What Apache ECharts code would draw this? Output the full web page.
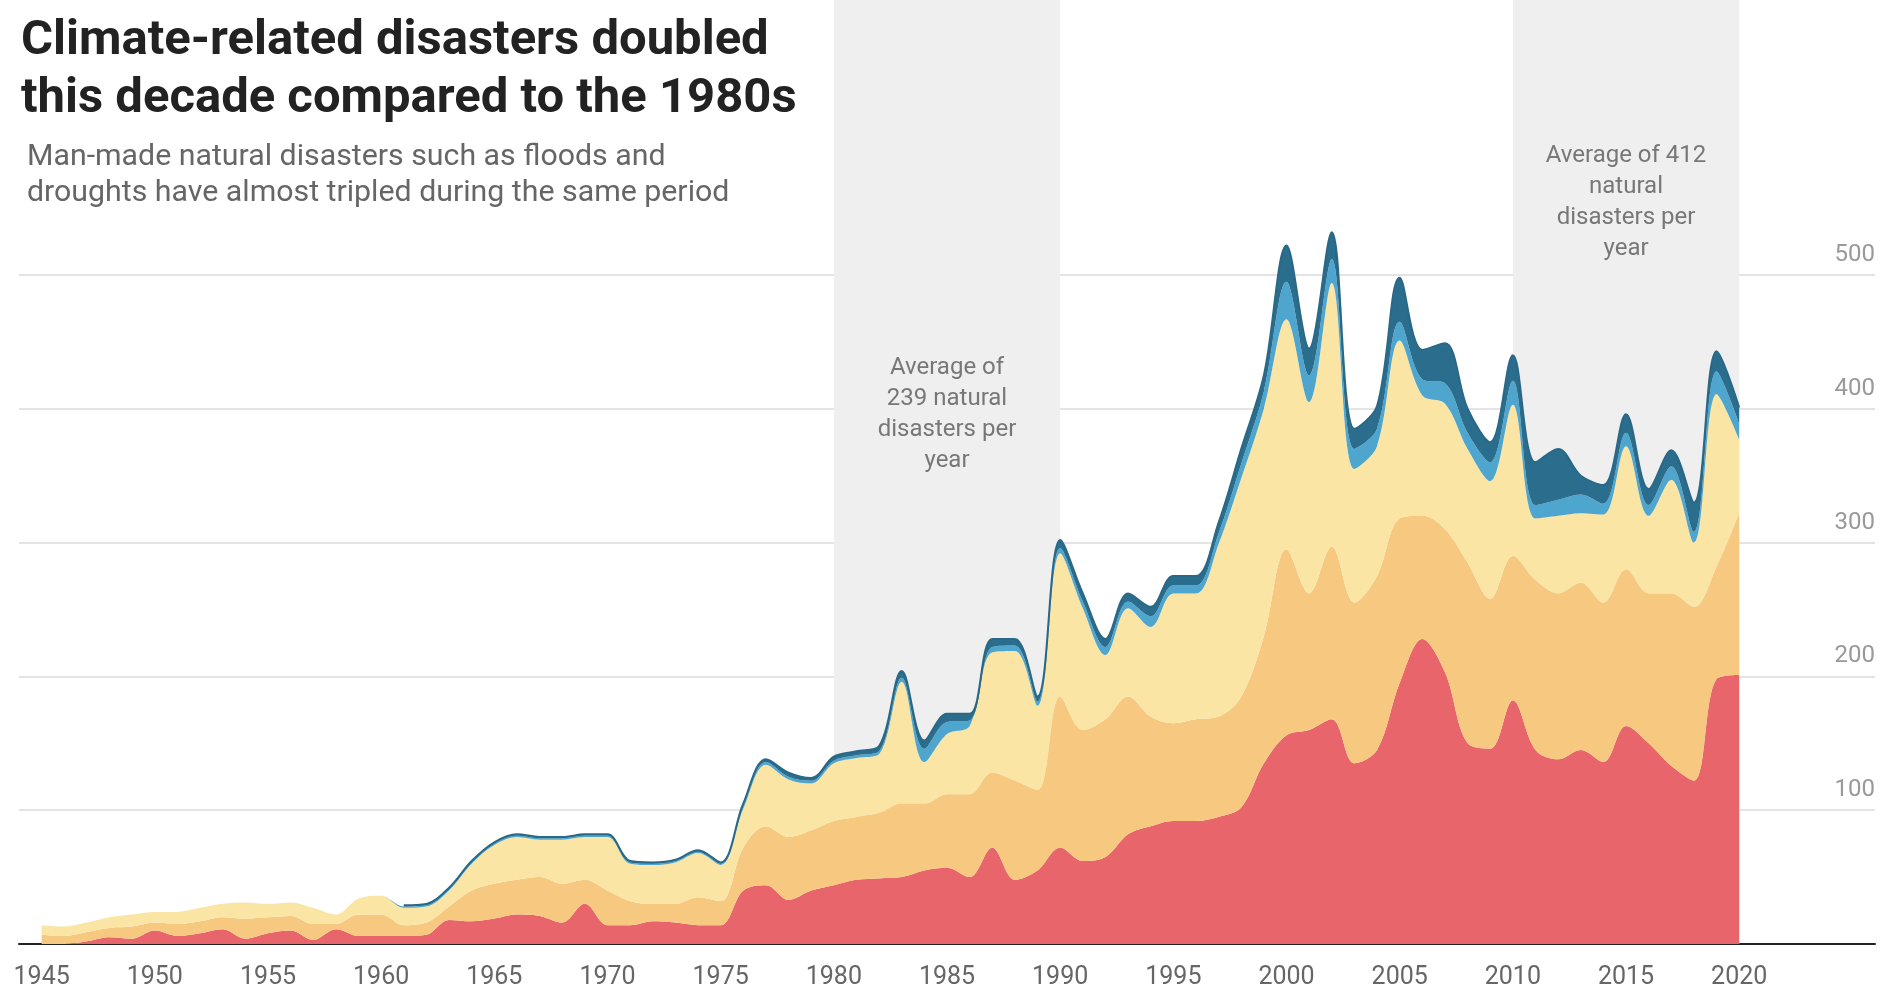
<!DOCTYPE html>
<html>
<head>
<meta charset="utf-8">
<script src="https://cdn.jsdelivr.net/npm/echarts@6/dist/echarts.min.js"></script>
<style>
html,body{margin:0;padding:0;background:#fff;}
#chart{width:1891px;height:991px;}
</style>
</head>
<body>
<div id="chart"></div>
<script>
// ---- Data ----
const years = [1945,1946,1947,1948,1949,1950,1951,1952,1953,1954,1955,1956,1957,1958,1959,1960,1961,1962,1963,1964,1965,1966,1967,1968,1969,1970,1971,1972,1973,1974,1975,1976,1977,1978,1979,1980,1981,1982,1983,1984,1985,1986,1987,1988,1989,1990,1991,1992,1993,1994,1995,1996,1997,1998,1999,2000,2001,2002,2003,2004,2005,2006,2007,2008,2009,2010,2011,2012,2013,2014,2015,2016,2017,2018,2019,2020];

// bottom layer (red)
const redValues = [0,0,2,5,4,10,6,8,11,4,8,10,3,11,6,6,6,7,18,17,19,22,21,16,30,14,14,17,16,14,14,40,44,33,40,44,48,49,50,55,57,50,72,48,55,72,62,65,82,88,92,92,95,102,135,156,160,168,135,145,195,228,203,150,146,182,145,138,145,136,163,150,133,122,198,201];
// second layer (orange)
const orangeValues = [7,6,7,7,9,6,9,9,9,15,12,11,12,4,16,16,8,9,10,23,26,26,29,29,18,26,18,13,14,21,18,32,44,47,45,48,47,49,55,50,55,62,56,74,60,113,98,103,103,82,73,76,75,83,95,139,102,129,120,130,123,92,107,135,112,108,127,124,125,119,117,112,129,130,84,121];
// third layer (light yellow)
const yellowValues = [7,7,7,8,9,8,9,10,10,12,10,10,12,7,12,14,13,12,12,20,29,32,28,33,32,40,28,29,31,33,27,29,46,43,35,43,44,44,91,31,45,51,90,97,63,107,91,48,66,67,97,94,129,163,170,172,143,197,100,97,133,90,94,85,88,113,46,58,52,66,92,58,85,48,129,55];
// fourth layer (light blue)
const lightBlueValues = [0,0,0,0,0,0,0,0,0,0,0,0,0,0,0,0,1,1,1,1,1,1,1,1,1,1,1,1,1,1,1,2,2,2,2,2,2,2,3,10,9,4,4,4,3,4,5,6,5,8,6,6,8,11,13,28,20,18,15,13,14,12,15,12,14,18,10,12,14,8,10,8,10,8,17,12];
// top layer (dark blue); null where the layer is absent
const darkBlueValues = [null,null,null,null,null,null,null,null,null,null,null,null,null,null,null,null,1,1,1,1,1,1,1,1,1,1,1,1,1,1,1,2,2,3,2,3,3,4,5,6,6,5,6,5,4,6,6,6,6,7,7,7,8,11,12,27,20,20,15,17,33,22,30,18,15,19,32,38,14,14,14,12,12,22,15,12];

const seriesNames = ['Layer 1','Layer 2','Layer 3','Layer 4','Layer 5'];
const axisStartYear = 1944;
const axisEndYear = 2026;
const xTickLabels = [1945,1950,1955,1960,1965,1970,1975,1980,1985,1990,1995,2000,2005,2010,2015,2020];
const yTickLabels = [100,200,300,400,500];

const titleText = 'Climate-related disasters doubled\nthis decade compared to the 1980s';
const subtitleText = 'Man-made natural disasters such as floods and\ndroughts have almost tripled during the same period';

const bandRanges = [[1980,1990],[2010,2020]];
const annotationTexts = ['Average of\n239 natural\ndisasters per\nyear','Average of 412\nnatural\ndisasters per\nyear'];
const annotationCoords = [[1985,396],[2015,554]];

// ---- Chart ----
const colors = ['#e8656b','#f7c87f','#fbe5a4','#4ea5cd','#2b6d8c'];
const valueLists = [redValues, orangeValues, yellowValues, lightBlueValues, darkBlueValues];

// category axis spanning a little beyond the data on both sides
const categories = [];
for (let y = axisStartYear; y <= axisEndYear; y++) categories.push(String(y));
function alignToAxis(vals) {
  return categories.map(c => {
    const k = years.indexOf(Number(c));
    return k >= 0 ? vals[k] : null;
  });
}

const chart = echarts.init(document.getElementById('chart'), null, {renderer:'canvas'});

const series = [];
series.push({
  type:'line', name:'bands', data:[], z:1, silent:true,
  markArea:{
    silent:true,
    itemStyle:{color:'#efefef'},
    data: bandRanges.map(r => [{xAxis:String(r[0])},{xAxis:String(r[1])}])
  },
  markPoint:{
    silent:true,
    symbol:'circle', symbolSize:0,
    label:{show:true, position:'inside', color:'#777', fontFamily:'Roboto', fontSize:24, lineHeight:31, align:'center'},
    data: annotationCoords.map((c,i)=>({coord:[String(c[0]), c[1]], value:c[1], label:{formatter:annotationTexts[i]}}))
  }
});
valueLists.forEach((vals, i) => {
  const isTop = i === valueLists.length - 1;
  series.push({
    type:'line', name:seriesNames[i], stack:'total', smooth:0.35,
    showSymbol:false, symbol:'none', z:2+i,
    data: alignToAxis(vals),
    lineStyle: isTop ? {width:2, color:'#2a6887'} : {width:0},
    areaStyle:{color:colors[i], opacity:1},
    itemStyle:{color:colors[i]}
  });
});

const option = {
  backgroundColor:'#ffffff',
  animation:false,
  title:[
    {text:titleText, left:16, top:8, textStyle:{fontFamily:'Roboto', fontSize:49, fontWeight:'bold', color:'#222', lineHeight:58}},
    {text:subtitleText, left:22, top:135, textStyle:{fontFamily:'Roboto', fontSize:30.3, fontWeight:'normal', color:'#666', lineHeight:35.5}}
  ],
  grid:{left:19, right:16, top:0, bottom:47, containLabel:false},
  xAxis:{
    type:'category', data:categories, boundaryGap:false,
    axisLine:{show:true, lineStyle:{color:'#222', width:2}},
    axisTick:{show:false},
    splitLine:{show:false},
    axisLabel:{
      interval:0,
      color:'#666', fontFamily:'Roboto', fontSize:25, margin:21,
      formatter: v => xTickLabels.indexOf(Number(v)) >= 0 ? v : ''
    }
  },
  yAxis:{
    type:'value', min:0, max:705.5, interval:100, position:'right',
    axisLine:{show:false}, axisTick:{show:false},
    splitLine:{show:true, lineStyle:{width:2, color:['rgba(0,0,0,0)','#e4e4e4','#e4e4e4','#e4e4e4','#e4e4e4','#e4e4e4','rgba(0,0,0,0)','rgba(0,0,0,0)']}},
    axisLabel:{
      inside:true, margin:0, color:'#999', fontFamily:'Roboto', fontSize:24,
      verticalAlign:'bottom', padding:[0,0,8,0],
      formatter: v => yTickLabels.indexOf(v) >= 0 ? String(v) : ''
    }
  },
  series: series
};
chart.setOption(option);
</script>
</body>
</html>
